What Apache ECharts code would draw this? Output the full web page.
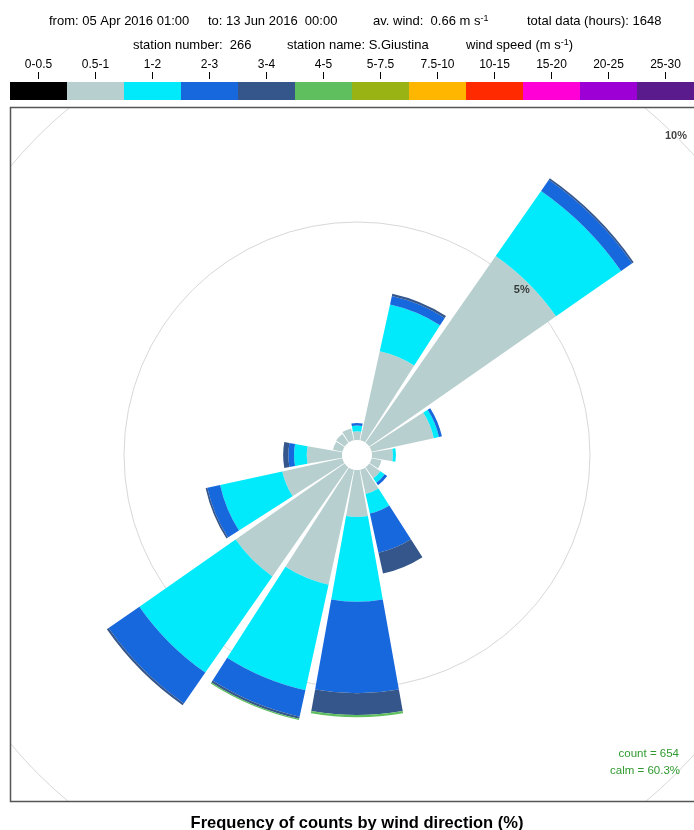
<!DOCTYPE html>
<html>
<head>
<meta charset="utf-8">
<script src="https://cdn.jsdelivr.net/npm/echarts@6/dist/echarts.min.js"></script>
<style>html,body{margin:0;padding:0;background:#fff}#c{width:694px;height:830px}</style>
</head>
<body>
<div id="c"></div>
<script>
// ---- data ----
const directions = ['N','NNE','NE','ENE','E','ESE','SE','SSE','S','SSW','SW','WSW','W','WNW','NW','NNW'];
const speedBins = ['0-0.5','0.5-1','1-2','2-3','3-4','4-5','5-7.5','7.5-10','10-15','15-20','20-25','25-30'];
const binColors = ['#000000','#b8cfcf','#00eafb','#1868dd','#34568b','#5fbf5f','#99b314','#ffb600','#ff2a00','#ff00d6','#9c00d4','#5a1b8d'];
// frequency (%) per direction for each speed bin
const freq05to1 = [0.20,2.09,5.22,1.46,0.48,0.23,0.31,0.57,1.08,2.70,3.05,1.41,0.81,0.22,0.24,0.28];
const freq1to2  = [0.13,1.10,1.82,0.12,0.07,0,0.12,0.46,1.94,2.48,2.69,1.46,0.29,0,0,0];
const freq2to3  = [0.06,0.20,0.31,0.07,0,0,0.07,0.92,2.10,0.62,0.86,0.30,0.13,0,0,0];
const freq3to4  = [0,0.05,0.04,0,0,0,0,0.49,0.50,0.05,0.05,0.04,0.12,0,0,0];
const freq4to5  = [0,0,0,0,0,0,0,0,0.05,0.03,0,0,0,0,0,0];
const ringValues = [5, 10];
const headerRow1 = ['from: 05 Apr 2016 01:00', 'to: 13 Jun 2016  00:00', 'av. wind:  0.66 m s{sup|-1}', 'total data (hours): 1648'];
const headerRow2 = ['station number:  266', 'station name: S.Giustina', 'wind speed (m s{sup|-1})'];
const countText = 'count = 654';
const calmText = 'calm = 60.3%';
const titleText = 'Frequency of counts by wind direction (%)';

// ---- layout ----
const FONT = 'Liberation Sans, Arial, Helvetica, sans-serif';
const row1X = [49, 208, 373, 527];
const row2X = [133, 287, 466];

const roseSeries = [
  {bin: 1, data: freq05to1},
  {bin: 2, data: freq1to2},
  {bin: 3, data: freq2to3},
  {bin: 4, data: freq3to4},
  {bin: 5, data: freq4to5}
].map(s => ({
  type: 'bar', coordinateSystem: 'polar', polarIndex: 0, stack: 'ws',
  name: speedBins[s.bin], data: s.data, barCategoryGap: '10%',
  itemStyle: {color: binColors[s.bin]}, z: 2, silent: true, animation: false
}));

const supRich = {sup: {fontSize: 9, fontFamily: FONT, fill: '#000', verticalAlign: 'top'}};
function headerText(txt, x, y) {
  return {type: 'text', x: x, y: y, z: 60, silent: true,
    style: {text: txt, fontSize: 13, fontFamily: FONT, fill: '#000', align: 'left', verticalAlign: 'middle', rich: supRich}};
}

const graphics = [
  // white masks clipping the plot area to its frame
  {type: 'rect', z: 50, silent: true, shape: {x: 0, y: 0, width: 694, height: 107}, style: {fill: '#fff'}},
  {type: 'rect', z: 50, silent: true, shape: {x: 0, y: 0, width: 10, height: 830}, style: {fill: '#fff'}},
  {type: 'rect', z: 50, silent: true, shape: {x: 0, y: 802, width: 694, height: 28}, style: {fill: '#fff'}},
  // frame
  {type: 'rect', z: 55, silent: true, shape: {x: 10.5, y: 107.5, width: 720, height: 694}, style: {fill: 'none', stroke: '#555', lineWidth: 1.5}},
  // green annotations
  {type: 'text', x: 679, y: 754, z: 60, silent: true, style: {text: countText, fontSize: 11.5, fontFamily: FONT, fill: '#2f9a2f', align: 'right', verticalAlign: 'middle'}},
  {type: 'text', x: 680, y: 771, z: 60, silent: true, style: {text: calmText, fontSize: 11.5, fontFamily: FONT, fill: '#2f9a2f', align: 'right', verticalAlign: 'middle'}},
  // bottom title
  {type: 'text', x: 357, y: 823, z: 60, silent: true, style: {text: titleText, fontSize: 16.5, fontWeight: 'bold', fontFamily: FONT, fill: '#000', align: 'center', verticalAlign: 'middle'}}
];
headerRow1.forEach((t, i) => graphics.push(headerText(t, row1X[i], 21)));
headerRow2.forEach((t, i) => graphics.push(headerText(t, row2X[i], 45)));

const chart = echarts.init(document.getElementById('c'), null, {renderer: 'canvas'});
chart.setOption({
  animation: false,
  backgroundColor: '#fff',
  textStyle: {fontFamily: FONT},
  grid: [{left: 10, top: 82, width: 695, height: 18, show: false}],
  xAxis: [{
    type: 'category', gridIndex: 0, data: speedBins, position: 'top', boundaryGap: true, offset: 3, z: 60,
    axisLine: {show: false, onZero: false},
    axisTick: {show: true, alignWithLabel: true, interval: 0, length: 7, lineStyle: {color: '#000', width: 1}},
    axisLabel: {interval: 0, margin: 8, fontSize: 12, color: '#000', fontFamily: FONT},
    splitLine: {show: false},
    splitArea: {show: true, interval: 0, areaStyle: {color: binColors, opacity: 1}}
  }],
  yAxis: [{type: 'value', gridIndex: 0, show: false, min: 0, max: 1}],
  polar: {center: [357, 455], radius: [15, 451]},
  angleAxis: {
    type: 'category', data: directions, startAngle: 101.25, clockwise: true, boundaryGap: true,
    axisLine: {show: false}, axisTick: {show: false}, axisLabel: {show: false}, splitLine: {show: false}
  },
  radiusAxis: {
    type: 'value', min: 0, max: 10, interval: 5, z: 1,
    axisLine: {show: false}, axisTick: {show: false}, axisLabel: {show: false},
    splitLine: {show: true, lineStyle: {color: ['rgba(0,0,0,0)', '#d8d8d8', '#d8d8d8'], width: 1}}
  },
  series: roseSeries.concat([{
    type: 'scatter', coordinateSystem: 'polar', polarIndex: 0, z: 5, silent: true,
    data: ringValues.map(v => [v, 'NE']),
    symbolSize: 1, itemStyle: {color: 'rgba(0,0,0,0)'},
    label: {show: true, position: 'inside', formatter: p => p.value[0] + '%', fontSize: 11, fontWeight: 'bold', color: '#111', fontFamily: FONT}
  }]),
  graphic: graphics
});
</script>
</body>
</html>
